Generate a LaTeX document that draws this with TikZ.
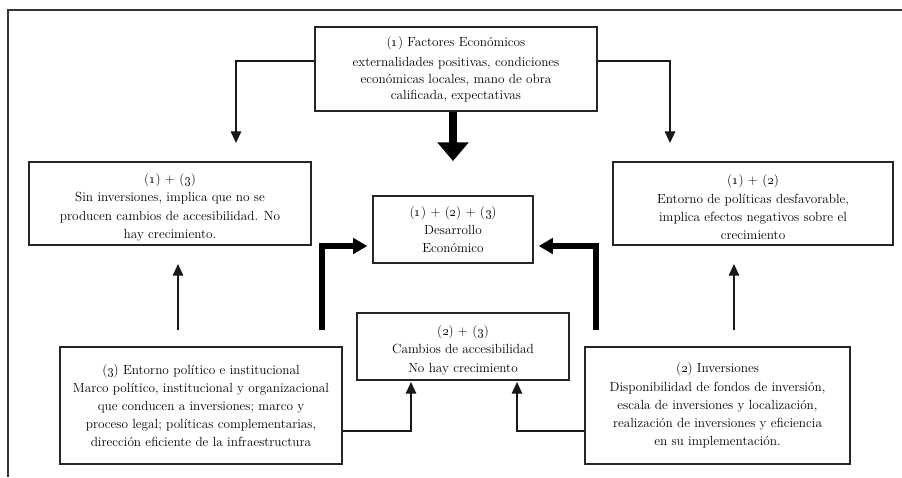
\documentclass[tikz,border=0pt]{standalone}
\usetikzlibrary{arrows.meta}

\newcommand{\nro}[1]{(\oldstylenums{#1})}
\newcommand{\bajar}{\rule{0pt}{15pt}}

\begin{document}
\begin{tikzpicture}[x=0.03cm,y=-0.03cm,
        caja/.style={draw=black!85, line width=1.2pt, inner sep=0pt, align=center,
                     font=\fontsize{11.3}{15.5}\selectfont},
        flecha/.style={draw=black!90, line width=1.2pt, -{Triangle[width=9pt,length=10pt]}},
        gruesa/.style={draw=black, line width=4.5pt, -{Triangle[width=13pt,length=12pt]}}]

                        % marco exterior (solo arriba e izquierda)
                            \useasboundingbox (0,0) rectangle (902,477);
                            \draw[black!80, line width=1.6pt] (8,477) -- (8,10) -- (902,10);

                        % cajas
                            \node[caja, minimum width=8.46cm, minimum height=2.52cm,
                                  font=\fontsize{11.3}{13.8}\selectfont] (fact) at (456,69)
                                {\nro{1} Factores Económicos\\[4pt]
                                 externalidades positivas, condiciones\\
                                 económicas locales, mano de obra\\
                                 calificada, expectativas};
                            \node[caja, minimum width=8.46cm, minimum height=2.49cm] (uno3) at (170,203.5)
                                {\bajar\nro{1} + \nro{3}\\
                                 Sin inversiones, implica que no se\\
                                 producen cambios de accesibilidad. No\\
                                 hay crecimiento.};
                            \node[caja, minimum width=8.4cm, minimum height=2.49cm] (uno2) at (753,203.5)
                                {\bajar\nro{1} + \nro{2}\\
                                 Entorno de políticas desfavorable,\\
                                 implica efectos negativos sobre el\\
                                 crecimiento};
                            \node[caja, minimum width=4.8cm, minimum height=2.01cm] (desa) at (453,229.5)
                                {\nro{1} + \nro{2} + \nro{3}\\
                                 Desarrollo\\
                                 Económico};
                            \node[caja, minimum width=6.36cm, minimum height=2.01cm] (acce) at (463,346.5)
                                {\bajar\nro{2} + \nro{3}\\
                                 Cambios de accesibilidad\\
                                 No hay crecimiento};
                            \node[caja, minimum width=8.46cm, minimum height=3.51cm] (ento) at (201,405.5)
                                {\nro{3} Entorno político e institucional\\
                                 Marco político, institucional y organizacional\\
                                 que conducen a inversiones; marco y\\
                                 proceso legal; políticas complementarias,\\
                                 dirección eficiente de la infraestructura};
                            \node[caja, minimum width=7.95cm, minimum height=3.51cm] (inve) at (717.5,405.5)
                                {\nro{2} Inversiones\\
                                 Disponibilidad de fondos de inversión,\\
                                 escala de inversiones y localización,\\
                                 realización de inversiones y eficiencia\\
                                 en su implementación.};

                        % puntas y arranques de las flechas
                            \coordinate (pIzq) at (236,143);
                            \coordinate (pDer) at (670,143);
                            \coordinate (pCen) at (453,161);
                            \coordinate (gIzq) at (322,330);
                            \coordinate (gDer) at (596,330);
                            \coordinate (eIzq) at (178,330);
                            \coordinate (eDer) at (734,330);

                        % flechas finas
                            \draw[flecha] (fact.west |- 0,61) -| (pIzq);
                            \draw[flecha] (fact.east |- 0,61) -| (pDer);
                            \draw[flecha] (eIzq) -- (eIzq |- 0,264);
                            \draw[flecha] (eDer) -- (eDer |- 0,264);
                            \draw[flecha] (ento.east |- 0,431) -| (411,382);
                            \draw[flecha] (inve.west |- 0,431) -| (517,382);

                        % flechas gruesas hacia el desarrollo
                            \draw[gruesa, line width=6pt, -{Triangle[width=26pt,length=16pt]}] (fact.south -| pCen) -- (pCen);
                            \draw[gruesa] (gIzq) |- ([xshift=-0.15cm]desa.west |- 0,246);
                            \draw[gruesa] (gDer) |- ([xshift=0.15cm]desa.east |- 0,246);

\end{tikzpicture}
\end{document}
